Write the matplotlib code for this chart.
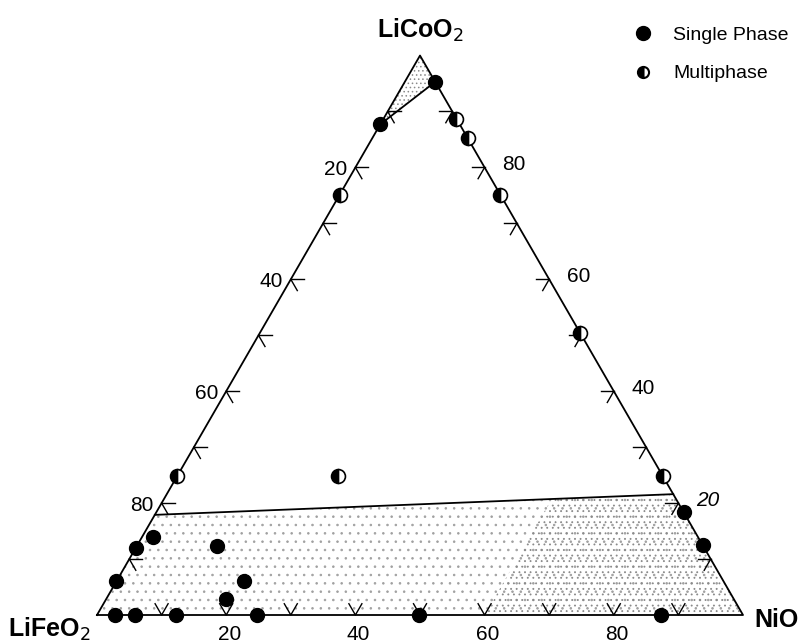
import matplotlib.pyplot as plt
import numpy as np

plt.rcParams['font.family'] = ['Liberation Sans', 'DejaVu Sans']
plt.rcParams['hatch.linewidth'] = 0.6

# Compositions, in percent (NiO, LiCoO2); LiFeO2 = rest
single_nio = [4.7, 0, 81.6, 87.5, 0, 0, 1.7, 12.4, 19.7, 18.5, 2.8, 5.9, 12.2, 24.8, 49.8, 87.3]
single_lco = [95.3, 87.7, 18.4, 12.5, 12.0, 6.0, 14.0, 12.3, 6.1, 2.9, 0, 0, 0, 0, 0, 0]

multi_nio = [11.3, 14.8, 24.9, 49.6, 75.1, 0, 0, 24.9]
multi_lco = [88.7, 85.2, 75.1, 50.4, 24.9, 75.1, 24.9, 24.9]

# single phase region boundaries (LiCoO2 % where the line meets the edges)
top_left_lco = 87.7
top_right_lco = 95.3
bottom_left_lco = 17.9
bottom_right_lco = 21.6

tick_values = [20, 40, 60, 80]
minor_values = [10, 20, 30, 40, 50, 60, 70, 80, 90]


def tern(nio, lco):
    nio = np.asarray(nio, dtype=float) / 100.0
    lco = np.asarray(lco, dtype=float) / 100.0
    return nio + lco / 2.0, lco * np.sqrt(3) / 2.0


fig = plt.figure(figsize=(8.04, 6.41), dpi=100)
ax = fig.add_axes([0, 0, 1, 1])
ax.set_xlim(-97 / 646.0, (804 - 97) / 646.0)
ax.set_ylim(-(641 - 615) / 646.0, 615 / 646.0)
ax.axis('off')

# Shaded single phase regions
##############################
px, py = tern([0, 0, 100 - top_right_lco], [100, top_left_lco, top_right_lco])
ax.fill(px, py, facecolor='white', edgecolor='#8a8a8a', hatch='....', linewidth=0)
px, py = tern([0, 100, 100 - bottom_right_lco, 0], [0, 0, bottom_right_lco, bottom_left_lco])
ax.fill(px, py, facecolor='white', edgecolor='#a0a0a0', hatch='..', linewidth=0)
# denser shading near NiO
px, py = tern([60, 100, 100 - bottom_right_lco, 60], [0, 0, bottom_right_lco, 20.8])
ax.fill(px, py, facecolor='none', edgecolor='#8a8a8a', hatch='...', linewidth=0)

# Triangle outline and boundary lines
px, py = tern([0, 100, 0, 0], [0, 0, 100, 0])
ax.plot(px, py, color='black', linewidth=1.3)
px, py = tern([0, 100 - top_right_lco], [top_left_lco, top_right_lco])
ax.plot(px, py, color='black', linewidth=1.3)
px, py = tern([0, 100 - bottom_right_lco], [bottom_left_lco, bottom_right_lco])
ax.plot(px, py, color='black', linewidth=1.3)

# Ticks
#######
tl = 13 / 646.0
s3 = np.sqrt(3) / 2.0
for v in minor_values:
    # left edge (LiFeO2)
    x0, y0 = tern(0, 100 - v)
    ax.plot([x0, x0 + tl], [y0, y0], color='black', linewidth=1)
    ax.plot([x0, x0 + tl * 0.5], [y0, y0 - tl * s3], color='black', linewidth=1)
    # right edge (LiCoO2)
    x0, y0 = tern(100 - v, v)
    ax.plot([x0 - tl, x0], [y0, y0], color='black', linewidth=1)
    ax.plot([x0, x0 - tl * 0.5], [y0, y0 - tl * s3], color='black', linewidth=1)
    # bottom edge (NiO)
    x0, y0 = tern(v, 0)
    ax.plot([x0 - tl * 0.5, x0, x0 + tl * 0.5], [y0 + tl * s3, y0, y0 + tl * s3],
            color='black', linewidth=1)

off = 8 / 646.0
for v in tick_values:
    x0, y0 = tern(0, 100 - v)
    ax.text(x0 - off, y0 - 2 / 646.0, str(v), ha='right', va='center', fontsize=15)
    x0, y0 = tern(100 - v, v)
    ax.text(x0 + 2.2 * off, y0 + 3 / 646.0, str(v), ha='left', va='center', fontsize=15,
            style='italic' if v == 20 else 'normal')
    x0, y0 = tern(v, 0)
    ax.text(x0 + 3 / 646.0, y0 - 10 / 646.0, str(v), ha='center', va='top', fontsize=15)

# Vertex labels
ax.text(0.5, (615 - 30) / 646.0, 'LiCoO$_2$', ha='center', va='center', fontsize=18, fontweight='bold')
ax.text((49 - 97) / 646.0, (615 - 629) / 646.0, 'LiFeO$_2$', ha='center', va='center', fontsize=18, fontweight='bold')
ax.text((777 - 97) / 646.0, (615 - 620) / 646.0, 'NiO', ha='center', va='center', fontsize=18, fontweight='bold')

# Data points
#############
px, py = tern(single_nio, single_lco)
ax.plot(px, py, linestyle='none', marker='o', markersize=10, color='black')
px, py = tern(multi_nio, multi_lco)
ax.plot(px, py, linestyle='none', marker='o', markersize=10, fillstyle='left',
        markerfacecolor='black', markerfacecoloralt='white', markeredgecolor='black',
        markeredgewidth=1.2)

# Legend
lx = (643 - 97) / 646.0
ax.plot([lx], [(615 - 33) / 646.0], marker='o', markersize=10, color='black')
ax.plot([lx], [(615 - 72) / 646.0], marker='o', markersize=8, fillstyle='left',
        markerfacecolor='black', markerfacecoloralt='white', markeredgecolor='black',
        markeredgewidth=1.5)
ax.text((673 - 97) / 646.0, (615 - 35) / 646.0, 'Single Phase', ha='left', va='center', fontsize=14)
ax.text((673 - 97) / 646.0, (615 - 74) / 646.0, 'Multiphase', ha='left', va='center', fontsize=14)

fig.savefig('out.png', dpi=100)
